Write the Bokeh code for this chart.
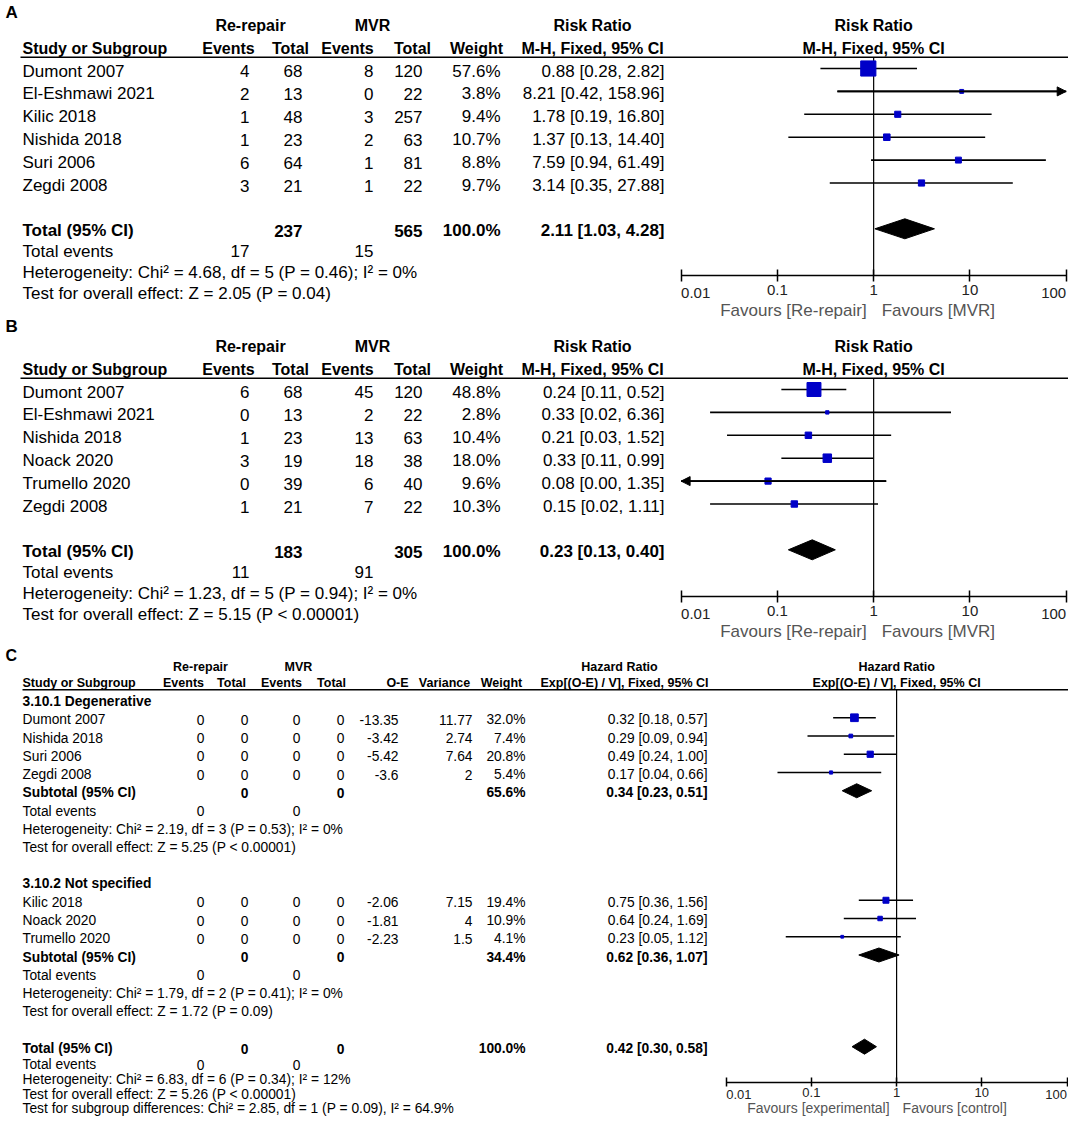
import math
from bokeh.plotting import figure
from bokeh.models import (Range1d, LogScale, LogAxis, FixedTicker, CustomJSTickFormatter,
                          ColumnDataSource, Arrow, NormalHead)
from bokeh.core.properties import value
from bokeh.embed import file_html
from bokeh.resources import INLINE

# ======================= DATA =======================
# ---- Panel A ----
a_studies = ["Dumont 2007", "El-Eshmawi 2021", "Kilic 2018", "Nishida 2018", "Suri 2006", "Zegdi 2008"]
a_rep_events = [4, 2, 1, 1, 6, 3]
a_rep_total = [68, 13, 48, 23, 64, 21]
a_mvr_events = [8, 0, 3, 2, 1, 1]
a_mvr_total = [120, 22, 257, 63, 81, 22]
a_weight = [57.6, 3.8, 9.4, 10.7, 8.8, 9.7]
a_rr = [0.88, 8.21, 1.78, 1.37, 7.59, 3.14]
a_lo = [0.28, 0.42, 0.19, 0.13, 0.94, 0.35]
a_hi = [2.82, 158.96, 16.80, 14.40, 61.49, 27.88]
a_sum_rep_total, a_sum_mvr_total, a_sum_weight = 237, 565, 100.0
a_sum_rr, a_sum_lo, a_sum_hi = 2.11, 1.03, 4.28
a_tot_rep_events, a_tot_mvr_events = 17, 15
a_het = "Heterogeneity: Chi\u00b2 = 4.68, df = 5 (P = 0.46); I\u00b2 = 0%"
a_test = "Test for overall effect: Z = 2.05 (P = 0.04)"

# ---- Panel B ----
b_studies = ["Dumont 2007", "El-Eshmawi 2021", "Nishida 2018", "Noack 2020", "Trumello 2020", "Zegdi 2008"]
b_rep_events = [6, 0, 1, 3, 0, 1]
b_rep_total = [68, 13, 23, 19, 39, 21]
b_mvr_events = [45, 2, 13, 18, 6, 7]
b_mvr_total = [120, 22, 63, 38, 40, 22]
b_weight = [48.8, 2.8, 10.4, 18.0, 9.6, 10.3]
b_rr = [0.24, 0.33, 0.21, 0.33, 0.08, 0.15]
b_lo = [0.11, 0.02, 0.03, 0.11, 0.00, 0.02]
b_hi = [0.52, 6.36, 1.52, 0.99, 1.35, 1.11]
b_sum_rep_total, b_sum_mvr_total, b_sum_weight = 183, 305, 100.0
b_sum_rr, b_sum_lo, b_sum_hi = 0.23, 0.13, 0.40
b_tot_rep_events, b_tot_mvr_events = 11, 91
b_het = "Heterogeneity: Chi\u00b2 = 1.23, df = 5 (P = 0.94); I\u00b2 = 0%"
b_test = "Test for overall effect: Z = 5.15 (P < 0.00001)"

# ---- Panel C ----
c1_title = "3.10.1 Degenerative"
c1_studies = ["Dumont 2007", "Nishida 2018", "Suri 2006", "Zegdi 2008"]
c1_oe = [-13.35, -3.42, -5.42, -3.6]
c1_var = [11.77, 2.74, 7.64, 2]
c1_weight = [32.0, 7.4, 20.8, 5.4]
c1_hr = [0.32, 0.29, 0.49, 0.17]
c1_lo = [0.18, 0.09, 0.24, 0.04]
c1_hi = [0.57, 0.94, 1.00, 0.66]
c1_sub_weight, c1_sub_hr, c1_sub_lo, c1_sub_hi = 65.6, 0.34, 0.23, 0.51
c1_het = "Heterogeneity: Chi\u00b2 = 2.19, df = 3 (P = 0.53); I\u00b2 = 0%"
c1_test = "Test for overall effect: Z = 5.25 (P < 0.00001)"

c2_title = "3.10.2 Not specified"
c2_studies = ["Kilic 2018", "Noack 2020", "Trumello 2020"]
c2_oe = [-2.06, -1.81, -2.23]
c2_var = [7.15, 4, 1.5]
c2_weight = [19.4, 10.9, 4.1]
c2_hr = [0.75, 0.64, 0.23]
c2_lo = [0.36, 0.24, 0.05]
c2_hi = [1.56, 1.69, 1.12]
c2_sub_weight, c2_sub_hr, c2_sub_lo, c2_sub_hi = 34.4, 0.62, 0.36, 1.07
c2_het = "Heterogeneity: Chi\u00b2 = 1.79, df = 2 (P = 0.41); I\u00b2 = 0%"
c2_test = "Test for overall effect: Z = 1.72 (P = 0.09)"

c_total_weight, c_total_hr, c_total_lo, c_total_hi = 100.0, 0.42, 0.30, 0.58
c_het = "Heterogeneity: Chi\u00b2 = 6.83, df = 6 (P = 0.34); I\u00b2 = 12%"
c_test = "Test for overall effect: Z = 5.26 (P < 0.00001)"
c_subdiff = "Test for subgroup differences: Chi\u00b2 = 2.85, df = 1 (P = 0.09), I\u00b2 = 64.9%"

axis_ticks = [0.01, 0.1, 1, 10, 100]
axis_tick_labels = ["0.01", "0.1", "1", "10", "100"]

# ======================= STYLE / LAYOUT =======================
FONT = "Liberation Sans"
BLUE = "#0000C8"
FAV_COLOR = "#555555"
TICK_COLOR = "#222222"
W, H = 1068, 1116

p = figure(width=W, height=H, x_range=Range1d(0, W), y_range=Range1d(H, 0),
           output_backend="svg", toolbar_location=None,
           x_axis_location=None, y_axis_location=None, min_border=0,
           outline_line_color=None)
p.grid.visible = False


def log_range(px_lo, px_hi, frame_lo=0.0, frame_hi=float(W)):
    d = (px_hi - px_lo) / 4.0
    return Range1d(10 ** (-2 - (px_lo - frame_lo) / d), 10 ** (2 + (frame_hi - px_hi) / d))


p.extra_x_ranges = {"ab": log_range(680.6, 1065.7), "c": log_range(725.7, 1066.5)}
p.extra_x_scales = {"ab": LogScale(), "c": LogScale()}


def txt(x, y, t, align="left", size=17, bold=False, color="black", rng="default", xoff=0):
    src = ColumnDataSource(dict(x=list(x), y=list(y), t=list(t)))
    p.text(x="x", y="y", text="t", source=src, x_range_name=rng, text_align=align,
           text_baseline="middle", text_font=value(FONT), text_font_size=f"{size}px",
           text_font_style="bold" if bold else "normal", text_color=color, x_offset=xoff)


def fmt_ci(e, l, h):
    return f"{e:.2f} [{l:.2f}, {h:.2f}]"


def forest(rng, ys, est, lo, hi, weight, scale, lw):
    lo_c = [min(max(v, 0.01), 100) for v in lo]
    hi_c = [min(max(v, 0.01), 100) for v in hi]
    p.segment(x0=lo_c, x1=hi_c, y0=ys, y1=ys, x_range_name=rng, line_color="black", line_width=lw)
    src = ColumnDataSource(dict(x=est, y=ys, s=[scale * math.sqrt(w) for w in weight]))
    p.scatter(x="x", y="y", size="s", source=src, marker="square", fill_color=BLUE,
              line_color=BLUE, x_range_name=rng)
    for y, l, h, lc, hc in zip(ys, lo, hi, lo_c, hi_c):
        if h > 100:
            p.add_layout(Arrow(x_start=lc, y_start=y, x_end=100, y_end=y, x_range_name=rng,
                               line_width=lw, end=NormalHead(size=9, fill_color="black", line_color="black")))
        if l < 0.01:
            p.add_layout(Arrow(x_start=hc, y_start=y, x_end=0.01, y_end=y, x_range_name=rng,
                               line_width=lw, end=NormalHead(size=9, fill_color="black", line_color="black")))


def diamond(rng, y, e, l, h, half):
    p.patch(x=[l, e, h, e], y=[y, y - half, y, y + half], x_range_name=rng,
            fill_color="black", line_color="black")


def add_axis(rng, axis_y, tick_in, tick_out, label_size, standoff, end_dy):
    ax = LogAxis(x_range_name=rng, fixed_location=axis_y, bounds=(0.01, 100),
                 ticker=FixedTicker(ticks=axis_ticks, minor_ticks=[]),
                 formatter=CustomJSTickFormatter(code="return (tick < 0.05 || tick > 50) ? '' : String(tick);"),
                 axis_line_width=1.5, axis_line_color="black",
                 major_tick_in=tick_in, major_tick_out=tick_out, major_tick_line_width=1.5,
                 major_tick_line_color="black", minor_tick_line_color=None,
                 major_label_text_font=FONT, major_label_text_font_size=f"{label_size}px",
                 major_label_text_color=TICK_COLOR, major_label_standoff=standoff)
    p.add_layout(ax, "below")
    txt([axis_ticks[0]], [axis_y + end_dy], [axis_tick_labels[0]], align="left", size=label_size,
        color=TICK_COLOR, rng=rng)
    txt([axis_ticks[-1]], [axis_y + end_dy], [axis_tick_labels[-1]], align="right", size=label_size,
        color=TICK_COLOR, rng=rng)


def rr_panel(dy, letter, letter_y, studies, rep_ev, rep_tot, mvr_ev, mvr_tot, wt, est, lo, hi,
             s_rep_tot, s_mvr_tot, s_w, s_e, s_l, s_h, t_rep, t_mvr, het, test):
    hdr1, hdr2, line_y = 25 + dy, 48 + dy, 56.7 + dy
    rows = [68 + 22.9 * i + dy for i in range(len(studies))]
    ty = [r + 2.5 for r in rows]
    y_tot, y_tev, y_het, y_test = 228.3 + dy, 250.5 + dy, 271.5 + dy, 292.5 + dy
    axis_y, fav_y = 275 + dy, 310 + dy
    X_NAME, X_EV1, X_TOT1, X_EV2, X_TOT2, X_W, X_RR = 22, 249, 302, 373, 422, 500, 664
    n = len(studies)

    txt([5], [letter_y], [letter], bold=True, size=17)
    txt([250, 372, 592], [hdr1] * 3, ["Re-repair", "MVR", "Risk Ratio"], align="center", size=16, bold=True)
    txt([1], [hdr1], ["Risk Ratio"], align="center", size=16, bold=True, rng="ab")
    txt([X_NAME], [hdr2], ["Study or Subgroup"], size=16, bold=True)
    txt([228, 290, 347, 412, 476, 592], [hdr2] * 6,
        ["Events", "Total", "Events", "Total", "Weight", "M-H, Fixed, 95% CI"], align="center", size=16, bold=True)
    txt([1], [hdr2], ["M-H, Fixed, 95% CI"], align="center", size=16, bold=True, rng="ab")
    p.segment(x0=[20], x1=[1080], y0=[line_y], y1=[line_y], line_color="black", line_width=1.5)

    txt([X_NAME] * n, ty, studies)
    txt([X_EV1] * n, ty, [str(v) for v in rep_ev], align="right")
    txt([X_TOT1] * n, ty, [str(v) for v in rep_tot], align="right")
    txt([X_EV2] * n, ty, [str(v) for v in mvr_ev], align="right")
    txt([X_TOT2] * n, ty, [str(v) for v in mvr_tot], align="right")
    txt([X_W] * n, ty, [f"{v:.1f}%" for v in wt], align="right")
    txt([X_RR] * n, ty, [fmt_ci(e, l, h) for e, l, h in zip(est, lo, hi)], align="right")

    yt = y_tot + 2
    txt([X_NAME], [yt], ["Total (95% CI)"], bold=True)
    txt([X_TOT1, X_TOT2, X_W, X_RR], [yt] * 4,
        [str(s_rep_tot), str(s_mvr_tot), f"{s_w:.1f}%", fmt_ci(s_e, s_l, s_h)], align="right", bold=True)
    txt([X_NAME], [y_tev], ["Total events"])
    txt([X_EV1, X_EV2], [y_tev] * 2, [str(t_rep), str(t_mvr)], align="right")
    txt([X_NAME], [y_het], [het])
    txt([X_NAME], [y_test], [test])

    p.segment(x0=[1], x1=[1], y0=[line_y], y1=[axis_y], x_range_name="ab", line_color="black", line_width=1.2)
    forest("ab", rows, est, lo, hi, wt, 2.0, 1.6)
    diamond("ab", y_tot, s_e, s_l, s_h, 10)
    add_axis("ab", axis_y, 6, 6, 15, 3, 17)
    txt([1], [fav_y], ["Favours [Re-repair]"], align="right", xoff=-7, color=FAV_COLOR, rng="ab")
    txt([1], [fav_y], ["Favours [MVR]"], align="left", xoff=8, color=FAV_COLOR, rng="ab")


rr_panel(0, "A", 12, a_studies, a_rep_events, a_rep_total, a_mvr_events, a_mvr_total, a_weight,
         a_rr, a_lo, a_hi, a_sum_rep_total, a_sum_mvr_total, a_sum_weight, a_sum_rr, a_sum_lo, a_sum_hi,
         a_tot_rep_events, a_tot_mvr_events, a_het, a_test)
rr_panel(321, "B", 326, b_studies, b_rep_events, b_rep_total, b_mvr_events, b_mvr_total, b_weight,
         b_rr, b_lo, b_hi, b_sum_rep_total, b_sum_mvr_total, b_sum_weight, b_sum_rr, b_sum_lo, b_sum_hi,
         b_tot_rep_events, b_tot_mvr_events, b_het, b_test)

# ---------------- Panel C ----------------
C0, CS = 699.0, 18.25
def cy(k):
    return C0 + CS * k

CX_NAME, CX_EV1, CX_TOT1, CX_EV2, CX_TOT2, CX_OE, CX_VAR, CX_W, CX_HR = 22, 204, 248, 300, 344, 398, 472, 525, 707
CB = 13.8   # body font
CH = 12.5   # header font
c_line_y, c_axis_y = 689.3, 1081.5

txt([5], [655], ["C"], bold=True, size=16)
txt([200, 298, 619], [666] * 3, ["Re-repair", "MVR", "Hazard Ratio"], align="center", size=CH, bold=True)
txt([1], [666], ["Hazard Ratio"], align="center", size=CH, bold=True, rng="c")
txt([CX_NAME], [682], ["Study or Subgroup"], size=CH, bold=True)
txt([183, 231, 281, 331, 397, 444, 501, 624], [682] * 8,
    ["Events", "Total", "Events", "Total", "O-E", "Variance", "Weight", "Exp[(O-E) / V], Fixed, 95% CI"],
    align="center", size=CH, bold=True)
txt([1], [682], ["Exp[(O-E) / V], Fixed, 95% CI"], align="center", size=CH, bold=True, rng="c")
p.segment(x0=[22], x1=[1080], y0=[c_line_y], y1=[c_line_y], line_color="black", line_width=1.5)
p.segment(x0=[1], x1=[1], y0=[c_line_y], y1=[c_axis_y], x_range_name="c", line_color="black", line_width=1.2)


def c_subgroup(k0, title, studies, oe, var, wt, hr, lo, hi, s_w, s_e, s_l, s_h, het, test):
    txt([CX_NAME], [cy(k0) + 1.5], [title], size=CB, bold=True)
    n = len(studies)
    rows = [cy(k0 + 1 + i) for i in range(n)]
    ty = [r + 2 for r in rows]
    txt([CX_NAME] * n, ty, studies, size=CB)
    for X in (CX_EV1, CX_TOT1, CX_EV2, CX_TOT2):
        txt([X] * n, ty, ["0"] * n, align="right", size=CB)
    txt([CX_OE] * n, ty, [f"{v:g}" for v in oe], align="right", size=CB)
    txt([CX_VAR] * n, ty, [f"{v:g}" for v in var], align="right", size=CB)
    txt([CX_W] * n, ty, [f"{v:.1f}%" for v in wt], align="right", size=CB)
    txt([CX_HR] * n, ty, [fmt_ci(e, l, h) for e, l, h in zip(hr, lo, hi)], align="right", size=CB)
    forest("c", rows, hr, lo, hi, wt, 1.36, 1.5)
    ys = cy(k0 + 1 + n)
    txt([CX_NAME], [ys + 2], ["Subtotal (95% CI)"], size=CB, bold=True)
    txt([CX_TOT1, CX_TOT2, CX_W, CX_HR], [ys + 2] * 4, ["0", "0", f"{s_w:.1f}%", fmt_ci(s_e, s_l, s_h)],
        align="right", size=CB, bold=True)
    diamond("c", ys, s_e, s_l, s_h, 7)
    txt([CX_NAME], [cy(k0 + 2 + n) + 2], ["Total events"], size=CB)
    txt([CX_EV1, CX_EV2], [cy(k0 + 2 + n) + 2] * 2, ["0", "0"], align="right", size=CB)
    txt([CX_NAME], [cy(k0 + 3 + n) + 2], [het], size=CB)
    txt([CX_NAME], [cy(k0 + 4 + n) + 2], [test], size=CB)


c_subgroup(0, c1_title, c1_studies, c1_oe, c1_var, c1_weight, c1_hr, c1_lo, c1_hi,
           c1_sub_weight, c1_sub_hr, c1_sub_lo, c1_sub_hi, c1_het, c1_test)
c_subgroup(10, c2_title, c2_studies, c2_oe, c2_var, c2_weight, c2_hr, c2_lo, c2_hi,
           c2_sub_weight, c2_sub_hr, c2_sub_lo, c2_sub_hi, c2_het, c2_test)

# overall block (slightly compressed so the last line stays inside the page)
yT = 1046.2
y_tev, y_het, y_test, y_diff = 1064.0, 1079.3, 1094.0, 1108.3
txt([CX_NAME], [yT + 2], ["Total (95% CI)"], size=CB, bold=True)
txt([CX_TOT1, CX_TOT2, CX_W, CX_HR], [yT + 2] * 4,
    ["0", "0", f"{c_total_weight:.1f}%", fmt_ci(c_total_hr, c_total_lo, c_total_hi)],
    align="right", size=CB, bold=True)
diamond("c", yT, c_total_hr, c_total_lo, c_total_hi, 7.5)
txt([CX_NAME], [y_tev], ["Total events"], size=CB)
txt([CX_EV1, CX_EV2], [y_tev] * 2, ["0", "0"], align="right", size=CB)
txt([CX_NAME], [y_het], [c_het], size=CB)
txt([CX_NAME], [y_test], [c_test], size=CB)
txt([CX_NAME], [y_diff], [c_subdiff], size=CB)

add_axis("c", c_axis_y, 5, 4, 13, 2, 12.5)
txt([1], [1107.5], ["Favours [experimental]"], align="right", xoff=-7, size=14, color=FAV_COLOR, rng="c")
txt([1], [1107.5], ["Favours [control]"], align="left", xoff=6, size=14, color=FAV_COLOR, rng="c")

open("out.html", "w").write(file_html(p, INLINE))
